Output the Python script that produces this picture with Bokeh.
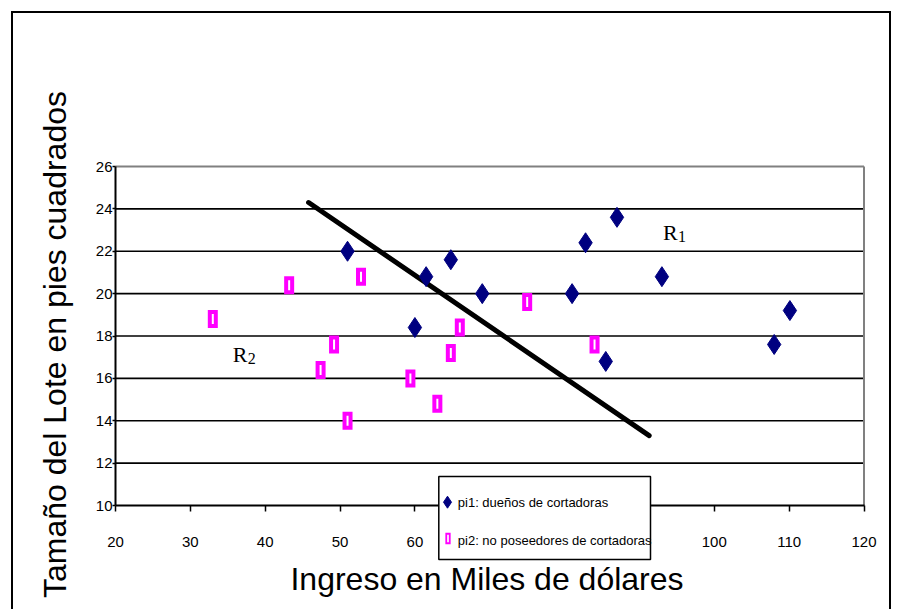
import math
from bokeh.plotting import figure
from bokeh.models import FixedTicker, Range1d, ColumnDataSource
from bokeh.embed import file_html
from bokeh.resources import INLINE
from bokeh.core.properties import value

# ---- data ----
owners_income = [60.0, 85.5, 64.8, 61.5, 87.0, 110.1, 108.0, 82.8, 69.0, 93.0, 51.0, 81.0]
owners_lot = [18.4, 16.8, 21.6, 20.8, 23.6, 19.2, 17.6, 22.4, 20.0, 20.8, 22.0, 20.0]
non_income = [75.0, 52.8, 64.8, 43.2, 84.0, 49.2, 59.4, 66.0, 47.4, 33.0, 51.0, 63.0]
non_lot = [19.6, 20.8, 17.2, 20.4, 17.6, 17.6, 16.0, 18.4, 16.4, 18.8, 14.0, 14.8]
line_x = [45.8, 91.3]
line_y = [24.3, 13.3]
region_text = ["R", "R"]
region_sub = ["1", "2"]
region_x = [93.15, 35.65]
region_y = [22.9, 17.12]
x_ticks = [20, 30, 40, 50, 60, 70, 80, 90, 100, 110, 120]
y_ticks = [10, 12, 14, 16, 18, 20, 22, 24, 26]
legend_labels = ["pi1: dueños de cortadoras", "pi2: no poseedores de cortadoras"]
x_title = "Ingreso en Miles de dólares"
y_title = "Tamaño del Lote en pies cuadrados"

NAVY = "#000080"
PINK = "#FF00FF"

# ---- layout (canvas pixels) ----
CANVAS_W, CANVAS_H = 880, 598
X_LEFT_PX, X_RIGHT_PX = 102.0, 850.5     # where x_ticks[0] / x_ticks[-1] fall
Y_TOP_PX, Y_BOTTOM_PX = 153.0, 492.0     # where y_ticks[-1] / y_ticks[0] fall
Y_TITLE_PX = (41.0, 331.0)               # baseline x, centre y
X_TITLE_PX = (473.5, 565.0)              # centre x, baseline y
LEGEND_BOX_PX = (425.3, 463.0, 637.0, 546.0)   # left, top, right, bottom
LEGEND_MARK_PX = [(434.0, 488.7), (434.5, 525.0)]
LEGEND_TEXT_PX = [(444.3, 488.7), (444.3, 527.0)]

sx = (X_RIGHT_PX - X_LEFT_PX) / (x_ticks[-1] - x_ticks[0])
sy = (Y_BOTTOM_PX - Y_TOP_PX) / (y_ticks[-1] - y_ticks[0])
x_low = x_ticks[0] - X_LEFT_PX / sx
x_high = x_low + CANVAS_W / sx
y_high = y_ticks[-1] + Y_TOP_PX / sy
y_low = y_high - CANVAS_H / sy


def dx(px):
    return x_low + px / sx


def dy(py):
    return y_high - py / sy


p = figure(width=CANVAS_W, height=CANVAS_H,
           x_range=Range1d(x_low, x_high), y_range=Range1d(y_low, y_high),
           output_backend="svg", toolbar_location=None,
           min_border_left=0, min_border_right=0, min_border_top=0, min_border_bottom=0,
           styles={"border-left": "2px solid black", "border-top": "2px solid black",
                   "border-right": "2px solid black", "margin-left": "11px", "margin-top": "11px"})

p.background_fill_color = "white"
p.border_fill_color = "white"
p.outline_line_color = None
p.xgrid.visible = False
p.ygrid.visible = False

for ax in (p.xaxis[0], p.yaxis[0]):
    ax.axis_line_color = "black"
    ax.axis_line_width = 2
    ax.major_tick_line_color = "black"
    ax.major_tick_line_width = 1.5
    ax.minor_tick_line_color = None
    ax.major_tick_in = 0
    ax.major_label_text_font = "Liberation Sans"
    ax.major_label_text_font_size = "15px"
    ax.major_label_text_color = "black"

p.xaxis.fixed_location = y_ticks[0]
p.xaxis.bounds = (x_ticks[0], x_ticks[-1])
p.xaxis.ticker = FixedTicker(ticks=x_ticks)
p.xaxis.major_label_overrides = {t: str(t) for t in x_ticks}
p.xaxis.major_tick_out = 6
p.xaxis.major_label_standoff = 25

p.yaxis.fixed_location = x_ticks[0]
p.yaxis.bounds = (y_ticks[0], y_ticks[-1])
p.yaxis.ticker = FixedTicker(ticks=y_ticks)
p.yaxis.major_label_overrides = {t: str(t) for t in y_ticks}
p.yaxis.major_tick_out = 3
p.yaxis.major_label_standoff = 0

# horizontal grid lines, limited to the plot area
grid_y = y_ticks[1:-1]
r_grid = p.segment(x0=[x_ticks[0]] * len(grid_y), x1=[x_ticks[-1]] * len(grid_y),
                   y0=grid_y, y1=grid_y, line_color="black", line_width=1.6)
r_grid.level = "underlay"

# grey top and right edges of the plot area
r_edge = p.segment(x0=[x_ticks[0], x_ticks[-1]], y0=[y_ticks[-1], y_ticks[0]],
                   x1=[x_ticks[-1], x_ticks[-1]], y1=[y_ticks[-1], y_ticks[-1]],
                   line_color="#808080", line_width=2)
r_edge.level = "underlay"

# axis titles
p.text(x=[dx(X_TITLE_PX[0])], y=[dy(X_TITLE_PX[1])], text=[x_title],
       text_font=value("Liberation Sans"), text_font_size="32px",
       text_align="center", text_baseline="alphabetic", text_color="black")
p.text(x=[dx(Y_TITLE_PX[0])], y=[dy(Y_TITLE_PX[1])], text=[y_title], angle=math.pi / 2,
       text_font=value("Liberation Sans"), text_font_size="32px",
       text_align="center", text_baseline="alphabetic", text_color="black")

# separating line
p.line(line_x, line_y, line_color="black", line_width=5, line_cap="round")

# owners: navy diamonds
src_own = ColumnDataSource(dict(x=owners_income, y=owners_lot))
p.scatter("x", "y", source=src_own, marker="diamond", size=20,
          fill_color=NAVY, line_color=NAVY, line_width=1)

# non-owners: magenta rectangles with white core
src_non = ColumnDataSource(dict(x=non_income, y=non_lot))
p.rect("x", "y", source=src_non, width=6, height=14, width_units="screen", height_units="screen",
       fill_color="white", line_color=PINK, line_width=4, line_join="miter")

# region labels
p.text(x=region_x, y=region_y, text=region_text, text_font=value("Liberation Serif"),
       text_font_size="22px", text_baseline="alphabetic", text_align="left", text_color="black")
p.text(x=region_x, y=region_y, text=region_sub, text_font=value("Liberation Serif"),
       text_font_size="16px", text_baseline="alphabetic", text_align="left", text_color="black",
       x_offset=15, y_offset=4)

# legend (drawn above the axis so it hides the covered tick labels)
lb = LEGEND_BOX_PX
r_box = p.quad(left=[dx(lb[0])], right=[dx(lb[2])], top=[dy(lb[1])], bottom=[dy(lb[3])],
               fill_color="white", line_color="black", line_width=1.5)
r_m1 = p.scatter(x=[dx(LEGEND_MARK_PX[0][0])], y=[dy(LEGEND_MARK_PX[0][1])], marker="diamond",
                 size=12, fill_color=NAVY, line_color=NAVY)
r_m2 = p.rect(x=[dx(LEGEND_MARK_PX[1][0])], y=[dy(LEGEND_MARK_PX[1][1])], width=3.5, height=9.5,
              width_units="screen", height_units="screen",
              fill_color="white", line_color=PINK, line_width=1.8, line_join="miter")
r_lt = p.text(x=[dx(t[0]) for t in LEGEND_TEXT_PX], y=[dy(t[1]) for t in LEGEND_TEXT_PX],
              text=legend_labels, text_font=value("Liberation Sans"), text_font_size="13px",
              text_align="left", text_baseline="middle", text_color="black")
for r in (r_box, r_m1, r_m2, r_lt):
    r.level = "overlay"

open("out.html", "w").write(file_html(p, INLINE))
